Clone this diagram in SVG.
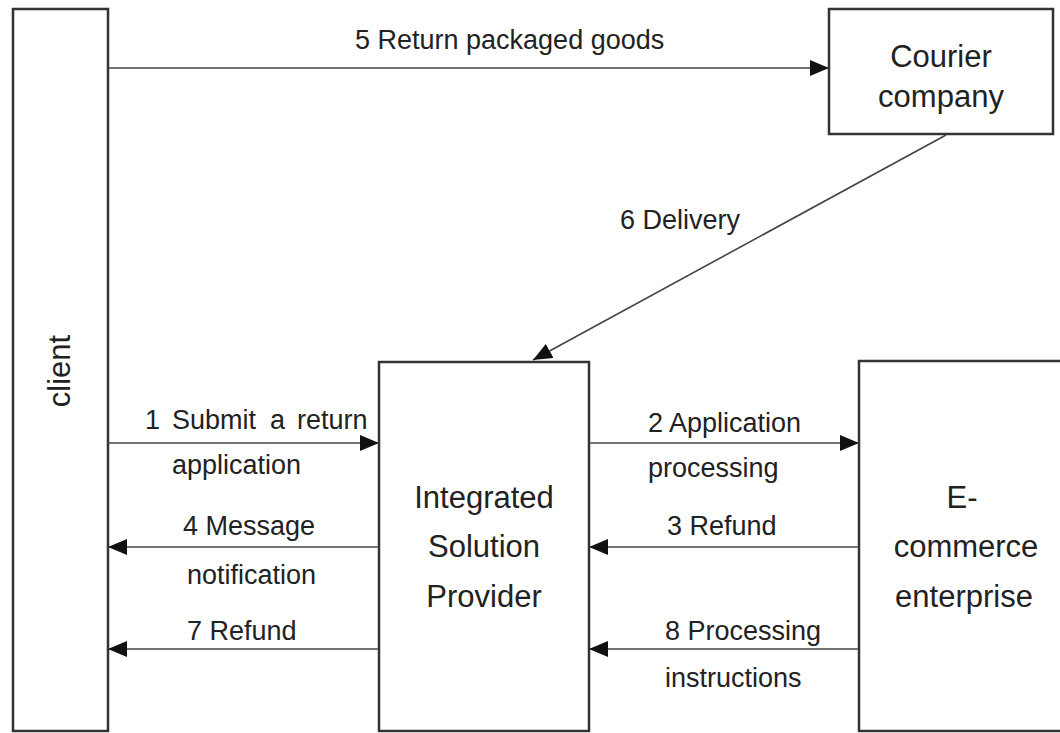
<svg xmlns="http://www.w3.org/2000/svg" width="1060" height="733" viewBox="0 0 1060 733">
<style>
.box{fill:#fff;stroke:#333;stroke-width:2.5}
.node{font-family:"Liberation Sans",Arial,sans-serif;font-size:31px;fill:#222;text-anchor:middle}
.lbl{font-family:"Liberation Sans",Arial,sans-serif;font-size:27px;fill:#222}
.edge{stroke:#444;stroke-width:1.6;fill:none}
</style>
<defs>
<marker id="ah" markerUnits="userSpaceOnUse" markerWidth="20" markerHeight="16" refX="19" refY="8" orient="auto">
<path d="M0,0 L19,8 L0,16 Z" fill="#111"/>
</marker>
</defs>
<rect width="1060" height="733" fill="#fff"/>
<g id="client">
<rect class="box" x="13" y="9" width="95" height="722"/>
<text class="node" transform="translate(70,371) rotate(-90)" x="0" y="0">client</text>
</g>
<g id="courier">
<rect class="box" x="829" y="9" width="224" height="125"/>
<text class="node" x="941" y="67">Courier</text>
<text class="node" x="941" y="107">company</text>
</g>
<g id="isp">
<rect class="box" x="379" y="362" width="210" height="369"/>
<text class="node" x="484" y="508">Integrated</text>
<text class="node" x="484" y="557">Solution</text>
<text class="node" x="484" y="607">Provider</text>
</g>
<g id="ecommerce">
<rect class="box" x="859" y="361" width="215" height="370"/>
<text class="node" x="962" y="508">E-</text>
<text class="node" x="966" y="557">commerce</text>
<text class="node" x="964" y="607">enterprise</text>
</g>
<g id="connectors">
<line class="edge" x1="108" y1="68" x2="829" y2="68" marker-end="url(#ah)"/>
<line class="edge" x1="946" y1="135" x2="533" y2="360" marker-end="url(#ah)"/>
<line class="edge" x1="108" y1="443" x2="379" y2="443" marker-end="url(#ah)"/>
<line class="edge" x1="589" y1="443" x2="859" y2="443" marker-end="url(#ah)"/>
<line class="edge" x1="859" y1="547" x2="589" y2="547" marker-end="url(#ah)"/>
<line class="edge" x1="379" y1="547" x2="108" y2="547" marker-end="url(#ah)"/>
<line class="edge" x1="379" y1="649" x2="108" y2="649" marker-end="url(#ah)"/>
<line class="edge" x1="859" y1="649" x2="589" y2="649" marker-end="url(#ah)"/>
</g>
<g id="labels">
<text class="lbl" x="355" y="49">5 Return packaged goods</text>
<text class="lbl" x="620" y="229">6 Delivery</text>
<text class="lbl" y="429"><tspan x="145">1</tspan><tspan x="172">Submit</tspan><tspan x="270">a</tspan><tspan x="297">return</tspan></text>
<text class="lbl" x="172" y="474">application</text>
<text class="lbl" x="183" y="535">4 Message</text>
<text class="lbl" x="187" y="584">notification</text>
<text class="lbl" x="187" y="640">7 Refund</text>
<text class="lbl" x="648" y="432">2 Application</text>
<text class="lbl" x="648" y="477">processing</text>
<text class="lbl" x="667" y="535">3 Refund</text>
<text class="lbl" x="665" y="640">8 Processing</text>
<text class="lbl" x="665" y="687">instructions</text>
</g>
</svg>
